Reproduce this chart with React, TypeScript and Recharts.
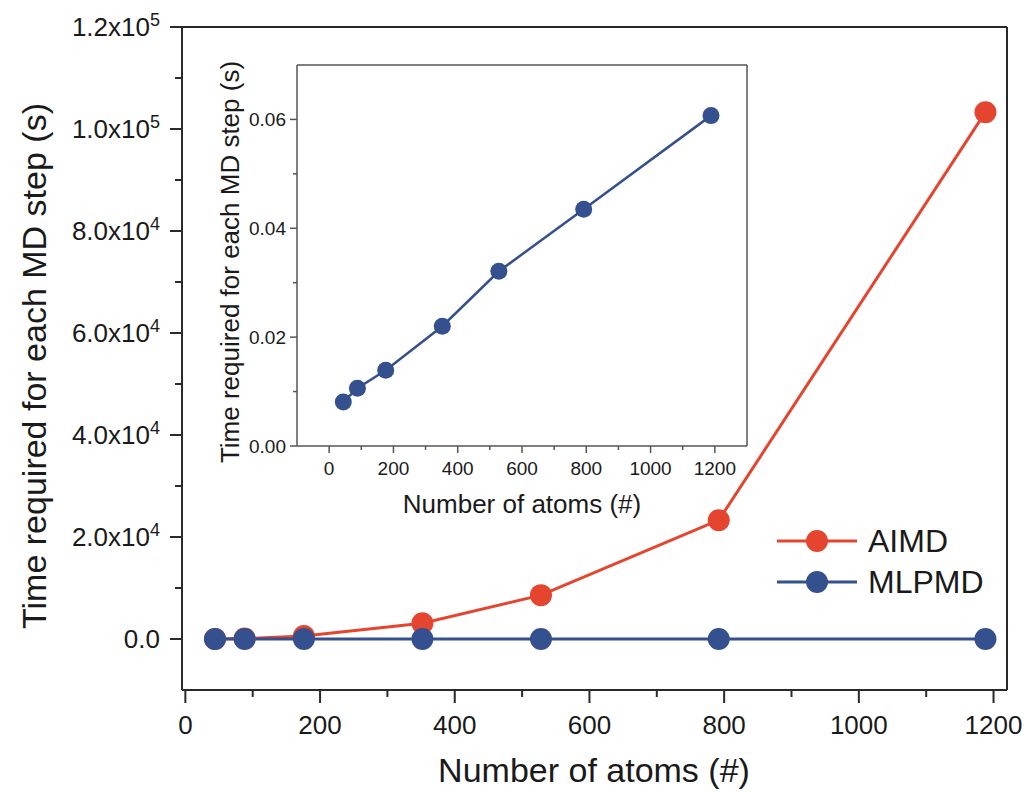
import React from "react";
import { LineChart, Line, XAxis, YAxis, Label, Legend, ReferenceLine } from "recharts";

const atoms = [44, 88, 176, 352, 528, 792, 1188];
const aimdTime = [20, 80, 600, 3100, 8600, 23300, 103300];
const mlpmdTime = [0.0081, 0.0106, 0.0139, 0.022, 0.0321, 0.0435, 0.0607];

const mainXTicks = [0, 100, 200, 300, 400, 500, 600, 700, 800, 900, 1000, 1100, 1200];
const mainYTicks = [0, 10000, 20000, 30000, 40000, 50000, 60000, 70000, 80000, 90000, 100000, 110000, 120000];
const insetXTicks = [0, 100, 200, 300, 400, 500, 600, 700, 800, 900, 1000, 1100, 1200];
const insetYTicks = [0, 0.01, 0.02, 0.03, 0.04, 0.05, 0.06];

const MAIN_X_DOMAIN = [-5, 1220];
const MAIN_Y_DOMAIN = [-10000, 120000];
const INSET_X_DOMAIN = [-100, 1300];
const INSET_Y_DOMAIN = [0, 0.07];

const RED = "#E5452E";
const BLUE = "#34508E";
const AXIS = "#2a2a2a";
const INSET_AXIS = "#555";
const TEXT = "#1a1a1a";
const FONT = "'Liberation Sans', Arial, Helvetica, sans-serif";

const data = atoms.map((a, i) => ({ atoms: a, aimd: aimdTime[i], mlpmd: mlpmdTime[i] }));

const MainXTick = (props: any) => {
  const { x, y, payload } = props;
  const major = payload.value % 200 === 0;
  return (
    <g>
      <line x1={x} y1={y} x2={x} y2={y + (major ? 13 : 7)} stroke={AXIS} strokeWidth={2} />
      {major && (
        <text x={x} y={y + 44} textAnchor="middle" fontSize={26} fill={TEXT} fontFamily={FONT}>
          {payload.value}
        </text>
      )}
    </g>
  );
};

const MainYTick = (props: any) => {
  const { x, y, payload } = props;
  const v = payload.value;
  const major = v % 20000 === 0;
  let label: React.ReactNode = null;
  if (major) {
    if (v === 0) {
      label = "0.0";
    } else {
      const exp = Math.floor(Math.log10(v));
      const mant = (v / Math.pow(10, exp)).toFixed(1);
      label = (
        <>
          {mant}x10
          <tspan dy={-10} fontSize={18}>{exp}</tspan>
        </>
      );
    }
  }
  return (
    <g>
      <line x1={x - (major ? 12 : 7)} y1={y} x2={x} y2={y} stroke={AXIS} strokeWidth={2} />
      {major && (
        <text x={x - 22} y={y + 9} textAnchor="end" fontSize={26} fill={TEXT} fontFamily={FONT}>
          {label}
        </text>
      )}
    </g>
  );
};

const InsetXTick = (props: any) => {
  const { x, y, payload } = props;
  const major = payload.value % 200 === 0;
  return (
    <g>
      <line x1={x} y1={y} x2={x} y2={y + (major ? 7 : 4)} stroke={INSET_AXIS} strokeWidth={1.5} />
      {major && (
        <text x={x} y={y + 29} textAnchor="middle" fontSize={19} fill={TEXT} fontFamily={FONT}>
          {payload.value}
        </text>
      )}
    </g>
  );
};

const InsetYTick = (props: any) => {
  const { x, y, payload } = props;
  const v = payload.value;
  const major = Math.round(v * 100) % 2 === 0;
  return (
    <g>
      <line x1={x - (major ? 7 : 4)} y1={y} x2={x} y2={y} stroke={INSET_AXIS} strokeWidth={1.5} />
      {major && (
        <text x={x - 11} y={y + 7} textAnchor="end" fontSize={19} fill={TEXT} fontFamily={FONT}>
          {v.toFixed(2)}
        </text>
      )}
    </g>
  );
};

const renderLegend = (props: any) => {
  const items =
    props.payload && props.payload.length
      ? props.payload
      : [
          { value: "AIMD", color: RED },
          { value: "MLPMD", color: BLUE },
        ];
  return (
    <svg width={240} height={90}>
      {items.map((e: any, i: number) => {
        const cy = 20 + i * 41;
        return (
          <g key={e.value}>
            <line x1={0} x2={80} y1={cy} y2={cy} stroke={e.color} strokeWidth={3} />
            <circle cx={40} cy={cy} r={11} fill={e.color} />
            <text x={91} y={cy + 11} fontSize={32} fill={TEXT} fontFamily={FONT}>
              {e.value}
            </text>
          </g>
        );
      })}
    </svg>
  );
};

export default function App() {
  return (
    <div
      style={{
        position: "absolute",
        left: 0,
        top: 0,
        width: 1029,
        height: 794,
        background: "#fff",
        fontFamily: FONT,
      }}
    >
      <LineChart width={1029} height={794} data={data} margin={{ top: 27, right: 22, left: 0, bottom: 0 }}>
        <XAxis
          dataKey="atoms"
          type="number"
          domain={MAIN_X_DOMAIN}
          ticks={mainXTicks}
          interval={0}
          allowDataOverflow
          height={104}
          tickSize={0}
          tickMargin={0}
          tickLine={false}
          tick={<MainXTick />}
          axisLine={{ stroke: AXIS, strokeWidth: 2 }}
        >
          <Label
            content={() => (
              <text x={594} y={782} textAnchor="middle" fontSize={34} fill={TEXT} fontFamily={FONT}>
                Number of atoms (#)
              </text>
            )}
          />
        </XAxis>
        <YAxis
          type="number"
          domain={MAIN_Y_DOMAIN}
          ticks={mainYTicks}
          interval={0}
          allowDataOverflow
          width={182}
          tickSize={0}
          tickMargin={0}
          tickLine={false}
          tick={<MainYTick />}
          axisLine={{ stroke: AXIS, strokeWidth: 2 }}
        >
          <Label
            content={() => (
              <text
                x={0}
                y={0}
                transform="translate(46, 366) rotate(-90)"
                textAnchor="middle"
                fontSize={34}
                fill={TEXT}
                fontFamily={FONT}
              >
                Time required for each MD step (s)
              </text>
            )}
          />
        </YAxis>
        {/* frame: top and right edges */}
        <ReferenceLine y={MAIN_Y_DOMAIN[1]} stroke={AXIS} strokeWidth={2} />
        <ReferenceLine x={MAIN_X_DOMAIN[1]} stroke={AXIS} strokeWidth={2} />
        <Legend
          layout="horizontal"
          align="center"
          verticalAlign="middle"
          content={renderLegend}
          wrapperStyle={{ position: "absolute", left: 777, top: 521, width: 240, height: 90 }}
        />
        <Line
          type="linear"
          dataKey="aimd"
          name="AIMD"
          stroke={RED}
          strokeWidth={3}
          dot={{ r: 11, fill: RED, stroke: RED, strokeWidth: 0 }}
          activeDot={false}
          isAnimationActive={false}
        />
        <Line
          type="linear"
          dataKey="mlpmd"
          name="MLPMD"
          stroke={BLUE}
          strokeWidth={3}
          dot={{ r: 11, fill: BLUE, stroke: BLUE, strokeWidth: 0 }}
          activeDot={false}
          isAnimationActive={false}
        />
      </LineChart>

      {/* inset */}
      <div style={{ position: "absolute", left: 190, top: 40 }}>
        <LineChart width={570} height={490} data={data} margin={{ top: 25, right: 13, left: 0, bottom: 0 }}>
          <XAxis
            dataKey="atoms"
            type="number"
            domain={INSET_X_DOMAIN}
            ticks={insetXTicks}
            interval={0}
            allowDataOverflow
            height={84}
            tickSize={0}
            tickMargin={0}
            tickLine={false}
            tick={<InsetXTick />}
            axisLine={{ stroke: INSET_AXIS, strokeWidth: 1.5 }}
          >
            <Label
              content={() => (
                <text x={332} y={473} textAnchor="middle" fontSize={26} fill={TEXT} fontFamily={FONT}>
                  Number of atoms (#)
                </text>
              )}
            />
          </XAxis>
          <YAxis
            type="number"
            domain={INSET_Y_DOMAIN}
            ticks={insetYTicks}
            interval={0}
            allowDataOverflow
            width={107}
            tickSize={0}
            tickMargin={0}
            tickLine={false}
            tick={<InsetYTick />}
            axisLine={{ stroke: INSET_AXIS, strokeWidth: 1.5 }}
          >
            <Label
              content={() => (
                <text
                  x={0}
                  y={0}
                  transform="translate(49, 222) rotate(-90)"
                  textAnchor="middle"
                  fontSize={26}
                  fill={TEXT}
                  fontFamily={FONT}
                >
                  Time required for each MD step (s)
                </text>
              )}
            />
          </YAxis>
          <ReferenceLine y={INSET_Y_DOMAIN[1]} stroke={INSET_AXIS} strokeWidth={1.5} />
          <ReferenceLine x={INSET_X_DOMAIN[1]} stroke={INSET_AXIS} strokeWidth={1.5} />
          <Line
            type="linear"
            dataKey="mlpmd"
            name="MLPMD"
            stroke={BLUE}
            strokeWidth={2.5}
            dot={{ r: 8.5, fill: BLUE, stroke: BLUE, strokeWidth: 0 }}
            activeDot={false}
            isAnimationActive={false}
          />
        </LineChart>
      </div>
    </div>
  );
}
